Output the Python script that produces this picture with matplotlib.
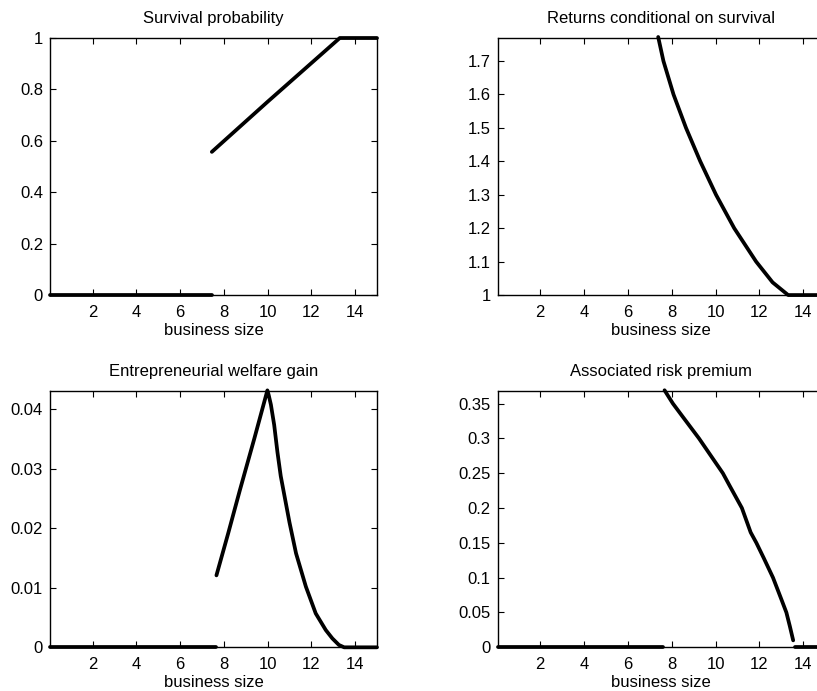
import matplotlib
matplotlib.use("Agg")
import matplotlib.pyplot as plt

plt.rcParams['font.family'] = ['Liberation Sans', 'DejaVu Sans']

# business size range shown on every panel
x_min, x_max = 0.05, 15.0
xticks = [2, 4, 6, 8, 10, 12, 14]

# Survival probability (zero part, then rising part)
surv_zero_x = [0.05, 7.45]
surv_zero_y = [0.0, 0.0]
surv_x = [7.45, 10.0, 13.3, 15.0]
surv_y = [0.557, 0.752, 1.0, 1.0]
surv_yticks = [0, 0.2, 0.4, 0.6, 0.8, 1]

# Returns conditional on survival
ret_x = [7.38, 7.62, 8.08, 8.65, 9.30, 10.02, 10.85, 11.85, 12.6, 13.31, 15.0]
ret_y = [1.772, 1.700, 1.600, 1.500, 1.400, 1.300, 1.200, 1.100, 1.038, 1.0, 1.0]
ret_yticks = [1, 1.1, 1.2, 1.3, 1.4, 1.5, 1.6, 1.7]

# Entrepreneurial welfare gain
wel_zero_x = [0.05, 7.62]
wel_zero_y = [0.0, 0.0]
wel_x = [7.66, 8.2, 8.73, 9.4, 9.99, 10.05, 10.15, 10.3, 10.45, 10.6, 11.0,
         11.3, 11.75, 12.2, 12.66, 12.96, 13.26, 13.5, 15.0]
wel_y = [0.0121, 0.0192, 0.0264, 0.0352, 0.0432, 0.0424, 0.0408, 0.0374, 0.0328, 0.0288, 0.0210,
         0.0158, 0.0102, 0.0057, 0.0029, 0.0015, 0.0004, 0.0, 0.0]
wel_yticks = [0, 0.01, 0.02, 0.03, 0.04]

# Associated risk premium
rp_zero_x = [0.05, 7.62]
rp_zero_y = [0.0, 0.0]
rp_x = [7.67, 8.05, 8.5, 9.24, 9.73, 10.33, 10.64, 11.2, 11.6, 11.86, 12.2,
        12.62, 13.0, 13.23, 13.39, 13.54]
rp_y = [0.369, 0.350, 0.331, 0.300, 0.2775, 0.250, 0.232, 0.200, 0.165, 0.150, 0.128,
        0.100, 0.069, 0.050, 0.030, 0.010]
rp_tail_x = [13.62, 15.0]
rp_tail_y = [0.0, 0.0]
rp_yticks = [0, 0.05, 0.1, 0.15, 0.2, 0.25, 0.3, 0.35]

panels = [
    ("Survival probability", [(surv_zero_x, surv_zero_y), (surv_x, surv_y)],
     surv_yticks, (0, 1), [0.0612, 0.573, 0.4002, 0.372]),
    ("Returns conditional on survival", [(ret_x, ret_y)],
     ret_yticks, (1, 1.769), [0.609, 0.573, 0.401, 0.372]),
    ("Entrepreneurial welfare gain", [(wel_zero_x, wel_zero_y), (wel_x, wel_y)],
     wel_yticks, (0, 0.0431), [0.0612, 0.0632, 0.4002, 0.371]),
    ("Associated risk premium", [(rp_zero_x, rp_zero_y), (rp_x, rp_y), (rp_tail_x, rp_tail_y)],
     rp_yticks, (0, 0.368), [0.609, 0.0632, 0.401, 0.371]),
]

fig = plt.figure(figsize=(8.17, 6.91), dpi=100)

for title, segs, yt, ylim, pos in panels:
    ax = fig.add_axes(pos)
    for xs, ys in segs:
        ax.plot(xs, ys, '-', color='black', lw=2.7, solid_capstyle='round',
                solid_joinstyle='round', clip_on=False)
    ax.set_xlim(x_min, x_max)
    ax.set_ylim(*ylim)
    ax.set_xticks(xticks)
    ax.set_yticks(yt)
    ax.set_yticklabels([f"{v:g}" for v in yt])
    ax.tick_params(direction='in', top=True, right=True, length=4, width=0.8,
                   labelsize=12, pad=5)
    ax.tick_params(axis='x', pad=7)
    for s in ax.spines.values():
        s.set_linewidth(1.0)
    ax.set_title(title, fontsize=12, pad=11)
    ax.set_xlabel("business size", fontsize=12, labelpad=2)

fig.savefig("out.png", dpi=100)
